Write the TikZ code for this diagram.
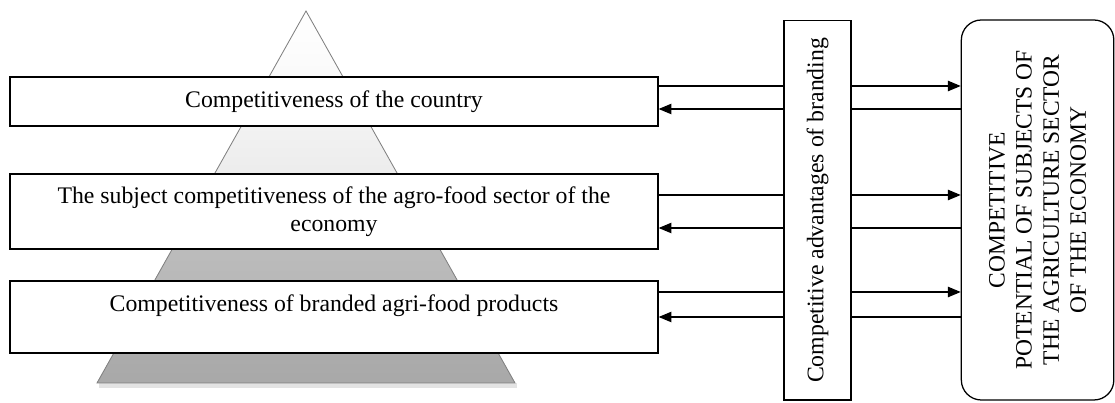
\documentclass[tikz,border=0pt]{standalone}
\usepackage{fontspec}
\setmainfont{Liberation Serif}
\usetikzlibrary{arrows.meta,calc}
\definecolor{PyrEdge}{RGB}{128,128,128}

\begin{document}
\begin{tikzpicture}[every node/.style={font=\fontsize{16.9}{20}\selectfont},
  lvl/.style={draw=black,line width=0.9pt,fill=white,minimum width=16.2cm,align=center,inner sep=0pt},
  side/.style={draw=black,line width=0.9pt,fill=white,inner sep=0pt,align=center,rotate=90},
  con/.style={line width=0.8pt},
  arr/.style={con,-{Triangle[length=3.2mm,width=2.6mm]}}]
\useasboundingbox (0,0) rectangle (27.875,10.075);
% pyramid, drawn in four bands
\coordinate (top) at (7.65,9.8);
\coordinate (bl) at (2.425,0.5);
\coordinate (br) at (12.875,0.5);
\fill[gray!22] ($(bl)+(0.05,-0.12)$) -- ($(br)+(0.05,-0.12)$) -- ($(br)+(0.05,0)$) -- ($(bl)+(0.05,0)$) -- cycle;
\foreach \a/\b/\c/\d in {0/0.2473/white/gray!6, 0.2473/0.5376/gray!8/gray!18, 0.5376/0.8226/gray!50/gray!58, 0.8226/1/gray!62/gray!68}
  \path[draw=PyrEdge,line width=0.6pt,top color=\c,bottom color=\d] ($(top)!\a!(bl)$) -- ($(top)!\b!(bl)$) -- ($(top)!\b!(br)$) -- ($(top)!\a!(br)$) -- cycle;
% levels
\node[lvl,minimum height=1.225cm] (c1) at (8.35,7.5375) {Competitiveness of the country};
\node[lvl,minimum height=1.875cm] (c2) at (8.35,4.7875) {The subject competitiveness of the agro-food sector of the\\economy};
\node[lvl,minimum height=1.8cm] (c3) at (8.35,2.15) {Competitiveness of branded agri-food products\\\mbox{}};
% right side
\node[side,minimum width=9.4825cm,minimum height=1.675cm] (adv) at (20.4375,4.816) {Competitive advantages of branding};
\node[side,rounded corners=0.5cm,minimum width=9.5cm,minimum height=3.8125cm,font=\fontsize{16.7}{19.3}\selectfont] (pot) at (25.94,4.825) {COMPETITIVE\\POTENTIAL OF SUBJECTS OF\\THE AGRICULTURE SECTOR\\OF THE ECONOMY};
% connectors (adv and pot are turned: north is the left side, south the right)
\foreach \n/\u/\v in {c1/7.925/7.35, c2/5.2/4.375, c3/2.775/2.15} {
  \coordinate (ya) at (0,\u);
  \coordinate (yb) at (0,\v);
  \draw[con] (\n.east |- ya) -- (adv.north |- ya);
  \draw[arr] (adv.north |- yb) -- (\n.east |- yb);
  \draw[arr] (adv.south |- ya) -- (pot.north |- ya);
  \draw[con] (pot.north |- yb) -- (adv.south |- yb);
}
\end{tikzpicture}
\end{document}
